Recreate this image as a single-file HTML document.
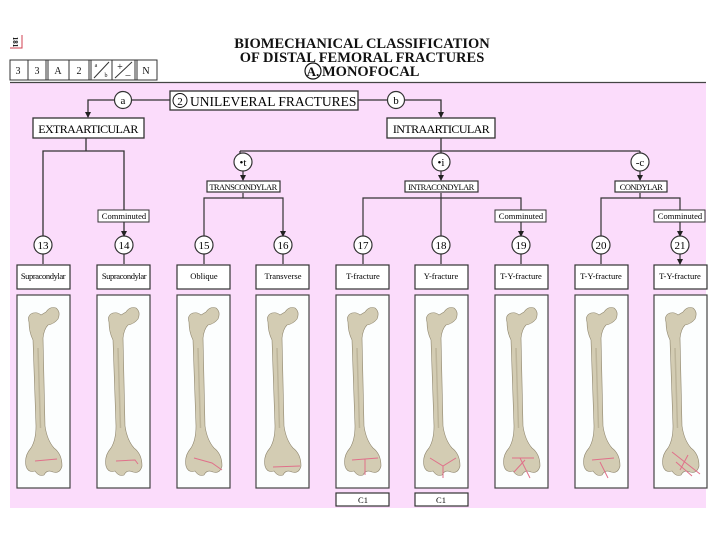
<!DOCTYPE html>
<html><head><meta charset="utf-8"><style>
html,body{margin:0;padding:0;background:#fff;}
svg{display:block;font-family:"Liberation Serif",serif;}
</style></head><body>
<svg width="720" height="540" viewBox="0 0 720 540" xmlns="http://www.w3.org/2000/svg">
<defs>
<marker id="ar" markerWidth="6" markerHeight="6" refX="5" refY="3" orient="auto" markerUnits="userSpaceOnUse"><path d="M0,0 L6,3 L0,6 z" fill="#222"/></marker>
<g id="bone">
<path d="M12,24 Q10,17 16,15 Q21,14 24,17 L29,14 Q33,8 39,10 Q44,14 41,21 Q37,26 31,27 Q27,31 26,40 L28,128 Q30,142 37,150 Q45,156 45,168 Q43,176 36,174 Q30,171 27,177 Q22,179 18,173 Q11,175 9,168 Q7,158 14,150 Q19,142 19,128 L16,42 Q12,34 12,24 z" fill="#d3ccb3" stroke="#8f866e" stroke-width="0.6"/>
<path d="M21,50 L23.5,130" stroke="#bdb59b" stroke-width="1.5" fill="none"/>
</g>
</defs>
<rect x="10" y="82" width="696" height="426" fill="#fbdcfb"/>
<line x1="10" y1="82.5" x2="706" y2="82.5" stroke="#444" stroke-width="1.2"/>
<path d="M10,48 L22,48 L22,35" stroke="#d04050" stroke-width="1" fill="none"/>
<text x="13" y="42" font-size="7" transform="rotate(90 13 42)" text-anchor="middle" font-weight="bold">181</text>
<g stroke="#333" stroke-width="1" fill="none">
<rect x="10" y="60" width="147" height="20"/>
<line x1="28" y1="60" x2="28" y2="80"/><line x1="46" y1="60" x2="46" y2="80"/><line x1="48" y1="60" x2="48" y2="80"/>
<line x1="69" y1="60" x2="69" y2="80"/><line x1="89" y1="60" x2="89" y2="80"/><line x1="91" y1="60" x2="91" y2="80"/>
<line x1="112" y1="60" x2="112" y2="80"/><line x1="135" y1="60" x2="135" y2="80"/><line x1="137" y1="60" x2="137" y2="80"/>
<line x1="94" y1="78" x2="109" y2="62"/><line x1="115" y1="78" x2="132" y2="62"/>
</g>
<g font-size="10" text-anchor="middle" fill="#111">
<text x="18" y="74">3</text><text x="37" y="74">3</text><text x="58" y="74">A</text><text x="79" y="74">2</text>
<text x="96" y="67" font-size="6">a</text><text x="106" y="77" font-size="6">b</text>
<text x="120" y="70" font-size="10">+</text><text x="128" y="78" font-size="10">–</text>
<text x="146" y="74">N</text>
</g>
<g font-size="14.5" font-weight="bold" text-anchor="middle" fill="#111">
<text x="362" y="48">BIOMECHANICAL CLASSIFICATION</text>
<text x="362" y="62">OF DISTAL FEMORAL FRACTURES</text>
<text x="313" y="76" font-size="13">A.</text>
<text x="322" y="76" text-anchor="start">MONOFOCAL</text>
</g>
<circle cx="313" cy="71" r="8" fill="none" stroke="#111" stroke-width="1.2"/>
<g stroke="#333" stroke-width="1.3" fill="none">
<path d="M170,100 L132,100 M114,100 L88,100 L88,117" marker-end="url(#ar)"/>
<path d="M358,100 L387,100 M405,100 L441,100 L441,117" marker-end="url(#ar)"/>
<path d="M86,138 L86,151 L43,151 L43,236 M86,151 L124,151 L124,236" marker-end="url(#ar)"/>
<path d="M441,138 L441,151 M240,151 L640,151 M240,151 L240,153 M441,151 L441,153 M640,151 L640,153"/>
</g>
<rect x="170" y="91" width="188" height="19" fill="#fff" stroke="#333" stroke-width="1.3"/>
<circle cx="180" cy="100.5" r="7" fill="none" stroke="#111" stroke-width="1"/>
<text x="180" y="105" font-size="11" text-anchor="middle">2</text>
<text x="190" y="106" font-size="13.5">UNILEVERAL FRACTURES</text>
<circle cx="123" cy="100" r="8.5" fill="#fff" stroke="#333" stroke-width="1.2"/><text x="123" y="104" font-size="11" text-anchor="middle">a</text>
<circle cx="396" cy="100" r="8.5" fill="#fff" stroke="#333" stroke-width="1.2"/><text x="396" y="104" font-size="11" text-anchor="middle">b</text>
<rect x="33" y="118" width="111" height="20" fill="#fff" stroke="#333" stroke-width="1.3"/>
<text x="88" y="133" font-size="12" text-anchor="middle" letter-spacing="-0.6">EXTRAARTICULAR</text>
<rect x="387" y="118" width="108" height="20" fill="#fff" stroke="#333" stroke-width="1.3"/>
<text x="441" y="133" font-size="12" text-anchor="middle" letter-spacing="-0.6">INTRAARTICULAR</text>
<g stroke="#333" stroke-width="1.2" fill="none">
<path d="M243,171 L243,180" marker-end="url(#ar)"/>
<path d="M441,171 L441,180" marker-end="url(#ar)"/>
<path d="M640,171 L640,180" marker-end="url(#ar)"/>
<path d="M243,193 L243,198 L204,198 L204,236 M243,198 L283,198 L283,236" marker-end="url(#ar)"/>
<path d="M441,193 L441,198 L363,198 L363,236 M441,198 L441,236 M441,198 L521,198 L521,236" marker-end="url(#ar)"/>
<path d="M640,193 L640,198 L601,198 L601,236 M640,198 L680,198 L680,236" marker-end="url(#ar)"/>
</g>
<g stroke="#333" stroke-width="1.2" fill="#fff">
<circle cx="243" cy="162" r="9"/><circle cx="441" cy="162" r="9"/><circle cx="640" cy="162" r="9"/>
<rect x="207" y="181" width="73" height="11"/><rect x="405" y="181" width="73" height="11"/><rect x="615" y="181" width="52" height="11"/>
</g>
<g font-size="11" text-anchor="middle">
<text x="243" y="166">•t</text><text x="441" y="166">•i</text><text x="640" y="166">-c</text>
</g>
<g font-size="8.5" text-anchor="middle" letter-spacing="-0.6">
<text x="243" y="190">TRANSCONDYLAR</text><text x="441" y="190">INTRACONDYLAR</text><text x="641" y="190">CONDYLAR</text>
</g>
<g stroke="#333" stroke-width="1" fill="#fff">
<rect x="98" y="210" width="51" height="12"/><rect x="495" y="210" width="51" height="12"/><rect x="654" y="210" width="51" height="12"/>
</g>
<g font-size="8.5" text-anchor="middle">
<text x="124" y="219">Comminuted</text><text x="521" y="219">Comminuted</text><text x="680" y="219">Comminuted</text>
</g>
<g stroke="#333" stroke-width="1.2" fill="#fff">
<circle cx="43" cy="245" r="9"/><circle cx="124" cy="245" r="9"/><circle cx="204" cy="245" r="9"/><circle cx="283" cy="245" r="9"/><circle cx="363" cy="245" r="9"/><circle cx="441" cy="245" r="9"/><circle cx="521" cy="245" r="9"/><circle cx="601" cy="245" r="9"/><circle cx="680" cy="245" r="9"/>
</g>
<g font-size="11" text-anchor="middle">
<text x="43" y="249">13</text><text x="124" y="249">14</text><text x="204" y="249">15</text><text x="283" y="249">16</text><text x="363" y="249">17</text><text x="441" y="249">18</text><text x="521" y="249">19</text><text x="601" y="249">20</text><text x="680" y="249">21</text>
</g>
<g stroke="#333" stroke-width="1.2" fill="none">
<path d="M43,254 L43,264 M124,254 L124,264 M204,254 L204,264 M283,254 L283,264 M363,254 L363,264 M441,254 L441,264 M521,254 L521,264 M601,254 L601,264 M680,254 L680,264" marker-end="url(#ar)"/>
</g>
<g stroke="#333" stroke-width="1.2" fill="#fff">
<rect x="17" y="265" width="53" height="24"/><rect x="97" y="265" width="53" height="24"/><rect x="177" y="265" width="53" height="24"/><rect x="256" y="265" width="53" height="24"/><rect x="336" y="265" width="53" height="24"/><rect x="415" y="265" width="53" height="24"/><rect x="495" y="265" width="53" height="24"/><rect x="575" y="265" width="53" height="24"/><rect x="654" y="265" width="53" height="24"/>
</g>
<g font-size="8.5" text-anchor="middle">
<text x="43" y="279" letter-spacing="-0.4">Supracondylar</text><text x="124" y="279" letter-spacing="-0.4">Supracondylar</text><text x="204" y="279">Oblique</text><text x="283" y="279">Transverse</text><text x="363" y="279">T-fracture</text><text x="441" y="279">Y-fracture</text><text x="521" y="279">T-Y-fracture</text><text x="601" y="279">T-Y-fracture</text><text x="680" y="279">T-Y-fracture</text>
</g>
<g stroke="#444" stroke-width="1.2" fill="#fcfefe">
<rect x="17" y="295" width="53" height="193"/><rect x="97" y="295" width="53" height="193"/><rect x="177" y="295" width="53" height="193"/><rect x="256" y="295" width="53" height="193"/><rect x="336" y="295" width="53" height="193"/><rect x="415" y="295" width="53" height="193"/><rect x="495" y="295" width="53" height="193"/><rect x="575" y="295" width="53" height="193"/><rect x="654" y="295" width="53" height="193"/>
</g>
<use href="#bone" x="17" y="298"/><use href="#bone" x="97" y="298"/><use href="#bone" x="177" y="298"/><use href="#bone" x="256" y="298"/><use href="#bone" x="336" y="298"/><use href="#bone" x="415" y="298"/><use href="#bone" x="495" y="298"/><use href="#bone" x="575" y="298"/><use href="#bone" x="654" y="298"/>
<g stroke="#e0708a" stroke-width="1" fill="none">
<path d="M35,461 L57,459"/><path d="M116,461 L135,460 L138,464"/><path d="M194,458 L212,463 L222,470"/><path d="M273,467 L300,466"/>
<path d="M352,460 L378,458 M365,459 L365,475"/><path d="M430,458 L443,466 L456,458 M443,466 L443,478"/>
<path d="M512,458 L534,458 M520,458 L530,478 M525,460 L514,472"/><path d="M592,460 L614,458 M600,462 L608,478"/><path d="M672,452 L700,474 M676,462 L692,476 M688,455 L680,470"/>
</g>
<rect x="336" y="493" width="53" height="13" fill="#fff" stroke="#333" stroke-width="1.2"/>
<rect x="415" y="493" width="53" height="13" fill="#fff" stroke="#333" stroke-width="1.2"/>
<text x="363" y="503" font-size="8.5" text-anchor="middle">C1</text>
<text x="441" y="503" font-size="8.5" text-anchor="middle">C1</text>
</svg>
</body></html>
